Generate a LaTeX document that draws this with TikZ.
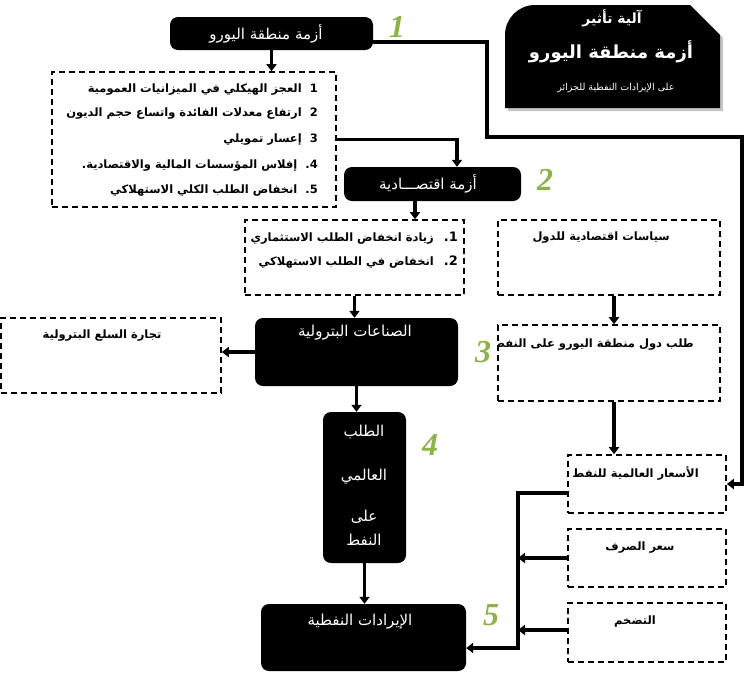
\documentclass[tikz,border=0pt]{standalone}
\usepackage{fontspec}
\usetikzlibrary{arrows.meta}
\TeXXeTstate=1
\newfontfamily\ar[Script=Arabic]{DejaVu Sans}
\newfontfamily\numfont{Liberation Serif}
\definecolor{numgreen}{RGB}{141,178,74}
\newcommand\RL[1]{\beginR #1\endR}
\tikzset{
 dbox/.style={draw, line width=1.6pt, dash pattern=on 6pt off 4pt, inner sep=0pt},
 bbox/.style={fill=black, rounded corners=8pt, inner sep=0pt},
 conn/.style={line width=3.4pt},
 arr/.style={conn, -{Triangle[width=10pt,length=7pt]}},
 wtxt/.style={text=white, font=\ar\fontsize{15}{17}\selectfont, inner sep=0pt},
 btxt/.style={font=\ar\bfseries\fontsize{11.5}{13}\selectfont, inner sep=0pt},
 num/.style={text=numgreen, font=\numfont\bfseries\itshape\fontsize{32}{34}\selectfont, inner sep=0pt},
}
\begin{document}
\begin{tikzpicture}[x=1pt,y=-1pt]
\useasboundingbox (0,0) rectangle (747,673);
% title
\fill[gray!45] (508,111) -- (508,38) .. controls (508,21.4) and (521.4,8) .. (538,8) -- (693,8) -- (723,38) -- (723,111) -- cycle;
\fill[black] (505,108) -- (505,35) .. controls (505,18.4) and (518.4,5) .. (535,5) -- (690,5) -- (720,35) -- (720,108) -- cycle;
\node[text=white, font=\ar\bfseries\fontsize{14}{16}\selectfont, inner sep=0pt] (t1) at (612,18) {\RL{آلية تأثير}};
\node[text=white, font=\ar\bfseries\fontsize{18}{20}\selectfont, inner sep=0pt] (t2) at (611,52) {\RL{أزمة منطقة اليورو}};
\node[text=white, font=\ar\fontsize{9.5}{11}\selectfont, inner sep=0pt] (t3) at (616,88) {\RL{على الإيرادات النفطية للجزائر}};

% boxes
\node[bbox, minimum width=203pt, minimum height=33pt] (n1) at (271.5,33.5) {};
\node[dbox, minimum width=284pt, minimum height=135pt] (lst) at (194,139.5) {};
\node[bbox, minimum width=177pt, minimum height=34pt] (n2) at (432.5,184) {};
\node[dbox, minimum width=219pt, minimum height=75pt] (ba) at (354.5,257.5) {};
\node[dbox, minimum width=222pt, minimum height=75pt] (bb) at (609,257.5) {};
\node[bbox, minimum width=203pt, minimum height=68pt] (n3) at (356.5,352) {};
\node[dbox, minimum width=220pt, minimum height=75pt] (bc) at (111,355.5) {};
\node[dbox, minimum width=222pt, minimum height=76pt] (bd) at (609,363) {};
\node[bbox, minimum width=83pt, minimum height=151pt] (n4) at (364.5,487.5) {};
\node[dbox, minimum width=158pt, minimum height=58pt] (be) at (647,484) {};
\node[dbox, minimum width=158pt, minimum height=58pt] (bf) at (647,558) {};
\node[dbox, minimum width=158pt, minimum height=59pt] (bg) at (647,632.5) {};
\node[bbox, minimum width=205pt, minimum height=67pt] (n5) at (363.5,637.5) {};

% black node texts
\node[wtxt] (n1t) at (266,34) {\RL{أزمة منطقة اليورو}};
\node[wtxt] (n2t) at (428,184) {\RL{أزمة اقتصـــادية}};
\node[wtxt] (n3t) at (355,333) {\RL{الصناعات البترولية}};
\node[wtxt] (n4a) at (364,432) {\RL{الطلب}};
\node[wtxt] (n4b) at (364,477) {\RL{العالمي}};
\node[wtxt] (n4c) at (364,517) {\RL{على}};
\node[wtxt] (n4d) at (364,540) {\RL{النفط}};
\node[wtxt] (n5t) at (360,622) {\RL{الإيرادات النفطية}};

% list box texts
\begin{scope}
\clip (46,72) rectangle (336,207);
\node[btxt, anchor=east] (l1) at (318,90) {\RL{العجز الهيكلي في الميزانيات العمومية}\hspace{8pt}{\fontspec{DejaVu Sans}1}};
\node[btxt, anchor=east] (l2) at (318,114) {\RL{ارتفاع معدلات الفائدة واتساع حجم الديون}\hspace{8pt}{\fontspec{DejaVu Sans}2}};
\node[btxt, anchor=east] (l3) at (318,140) {\RL{إعسار تمويلي}\hspace{8pt}{\fontspec{DejaVu Sans}3}};
\node[btxt, anchor=east] (l4) at (318,166) {\RL{إفلاس المؤسسات المالية والاقتصادية.}\hspace{8pt}{\fontspec{DejaVu Sans}.4}};
\node[btxt, anchor=east] (l5) at (318,191) {\RL{انخفاض الطلب الكلي الاستهلاكي}\hspace{8pt}{\fontspec{DejaVu Sans}.5}};
\end{scope}
\begin{scope}
\clip (245,220) rectangle (464,295);
\node[btxt, anchor=east] (a1) at (458,238) {\RL{زيادة انخفاض الطلب الاستثماري}\hspace{10pt}{\fontspec{DejaVu Sans}\bfseries\fontsize{13}{14}\selectfont .1}};
\node[btxt, anchor=east] (a2) at (458,262) {\RL{انخفاض في الطلب الاستهلاكي}\hspace{10pt}{\fontspec{DejaVu Sans}\bfseries\fontsize{13}{14}\selectfont .2}};
\end{scope}
\node[btxt, anchor=east] (bbt) at (670,238) {\RL{سياسات اقتصادية للدول}};
\node[btxt] (bct) at (102,336) {\RL{تجارة السلع البترولية}};
\begin{scope}
\clip (498,325) rectangle (720,401);
\node[btxt, anchor=east] (bdt) at (694,345) {\RL{طلب دول منطقة اليورو على النفط}};
\end{scope}
\begin{scope}
\clip (568,455) rectangle (726,513);
\node[btxt, anchor=east] (bet) at (699,473) {\RL{الأسعار العالمية للنفط}};
\end{scope}
\node[btxt] (bft) at (640,548) {\RL{سعر الصرف}};
\node[btxt] (bgt) at (635,622) {\RL{التضخم}};

% numbers
\node[num] (g1) at (397,27) {1};
\node[num] (g2) at (545,180) {2};
\node[num] (g3) at (483,352) {3};
\node[num] (g4) at (430,445) {4};
\node[num] (g5) at (491,615) {5};

% connectors
\coordinate (k1) at (487,42);
\coordinate (k2) at (742,137);
\coordinate (bus) at (518,648);
\draw[arr] (n1.east |- k1) -- (k1) |- (k2) |- (be.east);
\draw[arr] (n1.south) -- (n1.south |- lst.north);
\draw[arr] (lst.east) -| ([xshift=24.5pt]n2.north);
\draw[arr] ([xshift=-17.5pt]n2.south) -- ([xshift=-17.5pt]n2.south |- ba.north);
\draw[arr] (ba.south) -- (ba.south |- n3.north);
\draw[arr] (n3.west) -- (n3.west -| bc.east);
\draw[arr] (n3.south) -- (n3.south |- n4.north);
\draw[arr] (n4.south) -- (n4.south |- n5.north);
\draw[arr] ([xshift=5pt]bb.south) -- ([xshift=5pt]bd.north);
\draw[arr] ([xshift=5pt]bd.south) -- ([xshift=5pt]bd.south |- be.north);
\draw[arr] ([yshift=-9pt]be.west) -| (bus) -- (bus -| n5.east);
\draw[arr] (bf.west) -- (bf.west -| bus);
\draw[arr] ([yshift=2.5pt]bg.west) -- ([yshift=2.5pt]bg.west -| bus);
\end{tikzpicture}
\end{document}
